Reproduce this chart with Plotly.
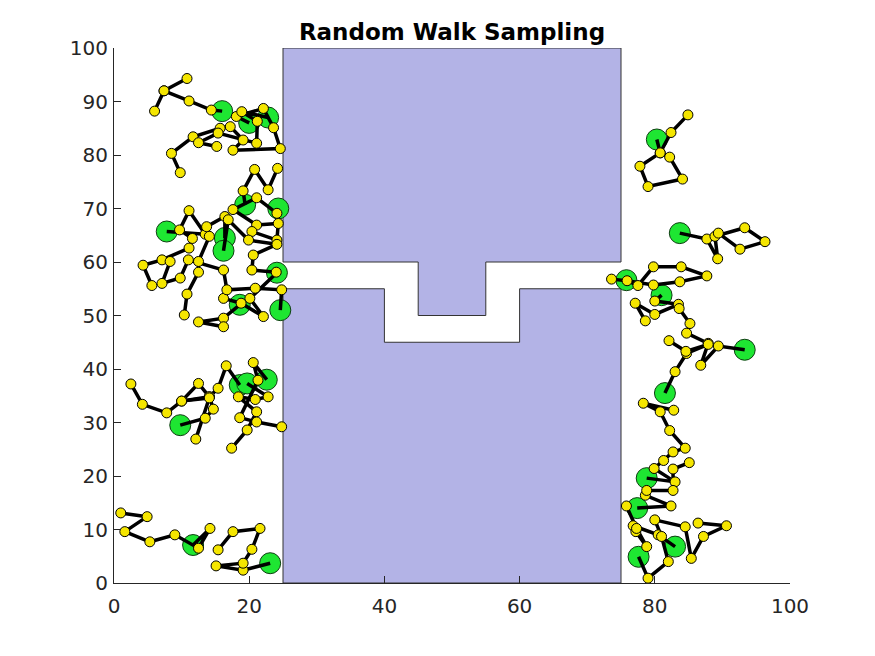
import plotly.graph_objects as go

# Obstacle polygons (data units)
obstacle_upper_x = [25, 45, 45, 55, 55, 75, 75, 25, 25]
obstacle_upper_y = [60, 60, 50, 50, 60, 60, 100, 100, 60]
obstacle_lower_x = [25, 75, 75, 60, 60, 40, 40, 25, 25]
obstacle_lower_y = [0, 0, 55, 55, 45, 45, 55, 55, 0]

x_ticks = [0, 20, 40, 60, 80, 100]
y_ticks = [0, 10, 20, 30, 40, 50, 60, 70, 80, 90, 100]

# Random walks: first point is the (green) start, others are (yellow) samples
walk_01 = [(16.0, 88.2), (14.4, 88.4), (11.1, 90.1), (7.4, 92.0), (10.8, 94.3), (7.4, 92.0), (6.0, 88.2)]
walk_02 = [(20.0, 86.0), (18.1, 87.2), (22.1, 88.7), (23.6, 85.1), (24.6, 81.2), (17.6, 80.9), (19.1, 82.8),
           (17.2, 85.3), (15.7, 85.0), (11.7, 83.4), (8.5, 80.3), (9.8, 76.7)]
walk_03 = [(22.8, 87.0), (18.9, 88.1), (21.2, 86.3), (21.1, 82.2), (15.4, 84.1), (12.5, 82.3), (15.2, 81.6)]
walk_04 = [(19.4, 70.7), (19.1, 73.3), (20.8, 77.3), (22.8, 73.5), (24.2, 77.5)]
walk_05 = [(24.3, 70.0), (24.1, 69.1), (21.1, 72.0), (17.6, 69.8), (21.1, 66.9), (24.3, 67.2), (24.1, 64.1), (20.4, 65.7)]
walk_06 = [(7.8, 65.7), (13.5, 65.2), (11.1, 69.6), (9.7, 66.0), (11.6, 64.4), (11.1, 62.6), (7.1, 60.4),
           (4.3, 59.4), (5.6, 55.6)]
walk_07 = [(16.4, 64.5), (16.4, 68.5), (13.7, 66.6), (14.1, 64.8), (12.5, 60.1), (12.5, 58.1), (10.8, 54.0), (10.4, 50.1)]
walk_08 = [(16.2, 62.1), (16.9, 67.9), (19.9, 64.1), (24.1, 63.3), (20.6, 61.3), (20.4, 58.5), (24.0, 58.1)]
walk_09 = [(24.1, 58.0), (20.1, 53.2), (22.1, 49.8), (18.8, 52.3), (16.2, 53.2)]
walk_10 = [(24.6, 51.0), (24.8, 54.8), (20.9, 55.1), (16.7, 54.8), (16.2, 58.5), (11.0, 60.4), (9.8, 57.0),
           (7.1, 56.0), (8.3, 60.1)]
walk_11 = [(18.6, 52.0), (16.2, 49.5), (12.5, 48.8), (16.2, 47.9)]
walk_12 = [(9.8, 29.5), (13.5, 30.8), (14.7, 32.5), (14.1, 34.8), (10.0, 34.0), (7.8, 31.8), (4.2, 33.4), (2.5, 37.2)]
walk_13 = [(18.6, 37.0), (16.6, 40.6), (15.4, 36.4), (14.1, 34.8), (12.5, 37.3), (10.0, 34.0), (14.1, 34.6), (12.1, 26.9)]
walk_14 = [(19.7, 37.3), (22.8, 34.8), (20.9, 34.3), (18.4, 34.8), (21.1, 32.0), (19.7, 28.6), (17.4, 25.2)]
walk_15 = [(22.6, 38.0), (20.6, 41.2), (21.3, 37.9), (18.6, 30.9), (21.1, 30.1), (24.8, 29.2)]
walk_16 = [(11.7, 7.1), (14.2, 10.2), (12.5, 6.5), (9.0, 9.0), (5.3, 7.7), (1.6, 9.6), (4.9, 12.4), (1.0, 13.1)]
walk_17 = [(23.1, 3.7), (19.1, 2.4), (15.1, 3.2), (19.1, 3.7), (20.4, 6.3), (21.6, 10.2), (17.6, 9.6), (15.4, 6.2)]
walk_18 = [(80.3, 82.9), (80.8, 80.4), (82.2, 79.6), (84.1, 75.5), (79.0, 74.1), (77.8, 77.9), (80.8, 80.4),
           (82.4, 84.2), (84.9, 87.5)]
walk_19 = [(83.7, 65.4), (87.7, 64.3), (89.3, 60.6), (88.9, 64.8), (93.3, 66.4), (96.3, 63.8), (92.6, 62.4), (89.4, 65.4)]
walk_20 = [(75.8, 56.6), (77.5, 55.6), (79.8, 59.1), (83.9, 59.1), (87.7, 57.4), (83.7, 56.3), (79.8, 55.7),
           (75.9, 56.5), (73.6, 56.8)]
walk_21 = [(81.0, 53.8), (80.0, 52.7), (83.5, 52.1), (80.0, 50.2), (77.1, 52.3), (78.6, 49.0)]
walk_22 = [(93.3, 43.6), (89.4, 44.3), (86.8, 40.7), (87.9, 44.8), (84.7, 46.7), (85.2, 48.5), (83.6, 51.3)]
walk_23 = [(81.5, 35.5), (83.0, 39.5), (84.7, 42.9), (87.9, 44.6), (84.6, 43.3), (82.1, 45.3)]
walk_24 = [(78.8, 19.6), (83.0, 18.9), (79.9, 21.4), (81.3, 22.9), (82.7, 24.5), (84.5, 25.2), (82.2, 28.5),
           (80.8, 32.0), (78.3, 33.6), (82.8, 32.3)]
walk_25 = [(77.4, 14.0), (82.4, 14.4), (78.6, 16.4), (78.8, 17.3), (82.7, 17.3), (82.7, 21.3), (85.1, 22.5)]
walk_26 = [(83.0, 6.8), (80.5, 9.0), (76.8, 10.7), (77.2, 9.6), (78.8, 6.8), (77.3, 10.2), (75.8, 14.4)]
walk_27 = [(77.6, 4.9), (79.0, 0.9), (82.0, 4.0), (81.0, 8.7), (80.0, 11.8), (84.5, 10.5), (85.4, 4.6),
           (87.2, 8.7), (90.6, 10.7), (86.4, 11.2)]

walks = [walk_01, walk_02, walk_03, walk_04, walk_05, walk_06, walk_07, walk_08, walk_09, walk_10,
         walk_11, walk_12, walk_13, walk_14, walk_15, walk_16, walk_17, walk_18, walk_19, walk_20,
         walk_21, walk_22, walk_23, walk_24, walk_25, walk_26, walk_27]

FONT = "DejaVu Sans"
AX = "#262626"

fig = go.Figure()

# obstacle
obs_x = obstacle_upper_x + [None] + obstacle_lower_x
obs_y = obstacle_upper_y + [None] + obstacle_lower_y
fig.add_trace(go.Scatter(x=obs_x, y=obs_y, mode="lines", fill="toself",
                         fillcolor="#b3b3e6", line=dict(color="#333333", width=1),
                         hoverinfo="skip", showlegend=False))

# green starts
fig.add_trace(go.Scatter(x=[w[0][0] for w in walks], y=[w[0][1] for w in walks], mode="markers",
                         marker=dict(size=21, color="#1ee632", line=dict(color="#0d3d10", width=1)),
                         showlegend=False))

# walk lines with yellow samples
lx, ly = [], []
for w in walks:
    lx += [p[0] for p in w] + [None]
    ly += [p[1] for p in w] + [None]
fig.add_trace(go.Scatter(x=lx, y=ly, mode="lines", line=dict(color="black", width=3.5),
                         showlegend=False))
yx, yy = [], []
for w in walks:
    yx += [p[0] for p in w[1:]]
    yy += [p[1] for p in w[1:]]
fig.add_trace(go.Scatter(x=yx, y=yy, mode="markers",
                         marker=dict(size=10, color="#f5e600", line=dict(color="black", width=1)),
                         showlegend=False))

W, H = 867, 648  # page body adds an 8px offset
axis_common = dict(showgrid=False, zeroline=False, showline=True, linecolor=AX, linewidth=1,
                   ticks="inside", ticklen=7, tickcolor=AX, tickwidth=1,
                   tickfont=dict(family=FONT, size=20, color=AX))
fig.update_layout(
    width=W, height=H,
    margin=dict(l=106, r=85, t=40, b=73, autoexpand=False),
    paper_bgcolor="white", plot_bgcolor="white",
    title=dict(text="<b>Random Walk Sampling</b>", x=0.5, xref="paper", xanchor="center",
               y=1 - 24 / H, yref="container", yanchor="middle",
               font=dict(family=FONT, size=23, color="black")),
    xaxis=dict(range=[0, 100], tickvals=x_ticks, ticklabelstandoff=5, **axis_common),
    yaxis=dict(range=[0, 100], tickvals=y_ticks, ticklabelstandoff=1, **axis_common),
)

fig.write_html("out.html")
